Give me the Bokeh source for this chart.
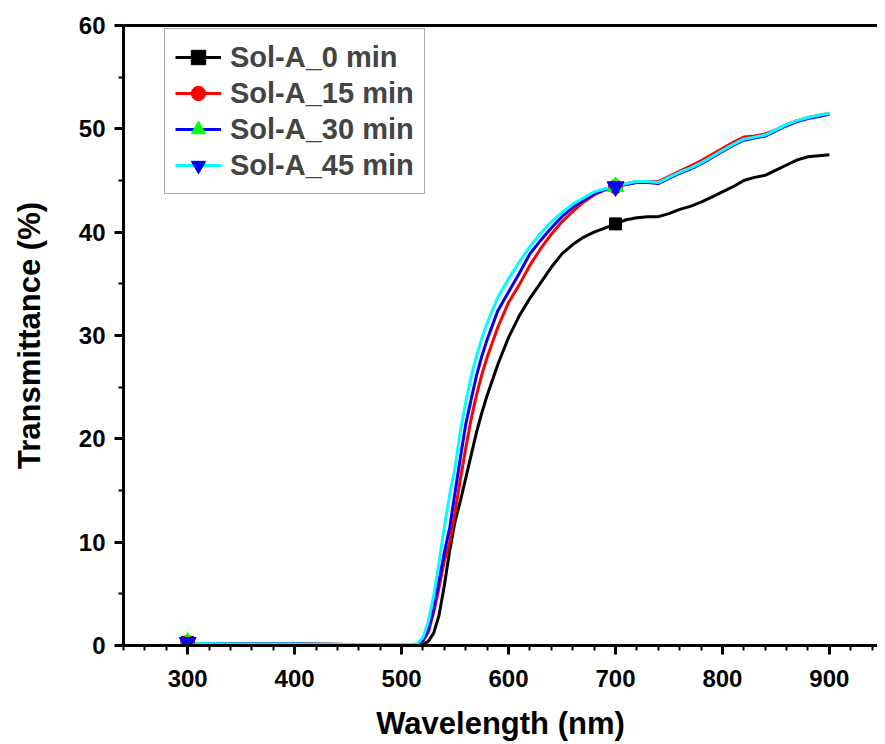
from bokeh.plotting import figure
from bokeh.models import Range1d, LinearAxis, Legend, LegendItem, FixedTicker
from bokeh.embed import file_html
from bokeh.resources import INLINE

# ---- data ----
wavelength = [300, 350, 400, 450, 500, 510, 515, 520, 525, 530, 535, 540, 545,
              550, 555, 560, 565, 570, 575, 580, 590, 600, 610, 620, 630, 640,
              650, 660, 670, 680, 690, 700, 710, 720, 730, 740, 750, 760, 770,
              780, 790, 800, 810, 820, 830, 840, 850, 860, 870, 880, 890, 900]

t_0min = [0.2, 0.15, 0.15, 0.1, 0.1, 0.1, 0.1, 0.1, 0.4, 1.2, 2.9, 5.8, 9.2,
          12.0, 14.0, 16.2, 18.4, 20.6, 22.5, 24.2, 27.2, 29.8, 31.9, 33.6, 35.1, 36.6,
          37.9, 38.8, 39.5, 40.0, 40.4, 40.8, 41.2, 41.4, 41.5, 41.5, 41.8, 42.2, 42.5,
          42.9, 43.4, 43.9, 44.4, 45.0, 45.3, 45.5, 46.0, 46.5, 47.0, 47.3, 47.4, 47.5]

t_15min = [0.2, 0.15, 0.15, 0.1, 0.1, 0.1, 0.1, 0.4, 1.3, 3.2, 5.6, 8.2, 10.0,
           12.9, 16.1, 19.1, 21.9, 24.2, 26.2, 27.9, 30.8, 33.2, 34.9, 36.8, 38.4, 39.8,
           41.0, 42.0, 42.9, 43.6, 44.1, 44.4, 44.7, 44.9, 44.9, 44.9, 45.4, 45.9, 46.4,
           46.9, 47.5, 48.1, 48.7, 49.2, 49.3, 49.5, 49.9, 50.4, 50.8, 51.1, 51.3, 51.5]

t_30min = [0.2, 0.15, 0.15, 0.1, 0.1, 0.1, 0.1, 0.5, 1.5, 3.6, 6.3, 9.0, 11.4,
           14.8, 18.2, 21.4, 23.8, 26.1, 28.0, 29.6, 32.4, 34.2, 36.0, 37.9, 39.2, 40.4,
           41.5, 42.4, 43.1, 43.7, 44.1, 44.4, 44.6, 44.8, 44.8, 44.7, 45.2, 45.7, 46.1,
           46.6, 47.2, 47.8, 48.4, 48.9, 49.1, 49.3, 49.8, 50.3, 50.7, 51.0, 51.2, 51.4]

t_45min = [0.2, 0.15, 0.15, 0.1, 0.1, 0.1, 0.2, 0.8, 2.3, 4.8, 8.0, 11.5, 14.6,
           17.2, 20.8, 23.5, 26.0, 28.0, 29.7, 31.2, 33.7, 35.5, 37.1, 38.6, 39.9, 41.0,
           41.9, 42.7, 43.3, 43.9, 44.2, 44.4, 44.7, 44.9, 44.9, 44.8, 45.3, 45.8, 46.2,
           46.7, 47.3, 47.9, 48.5, 49.0, 49.2, 49.4, 49.9, 50.4, 50.8, 51.1, 51.3, 51.5]

marker_wl = [300, 700]
m_0min = [0.3, 40.8]
m_15min = [0.3, 44.4]
m_30min = [0.3, 44.4]
m_45min = [0.3, 44.4]

labels = ["Sol-A_0 min", "Sol-A_15 min", "Sol-A_30 min", "Sol-A_45 min"]
x_major = [300, 400, 500, 600, 700, 800, 900]
x_minor = [240, 260, 280, 320, 340, 360, 380, 420, 440, 460, 480, 520, 540, 560,
           580, 620, 640, 660, 680, 720, 740, 760, 780, 820, 840, 860, 880, 920, 940]
y_major = [0, 10, 20, 30, 40, 50, 60]
y_minor = [5, 15, 25, 35, 45, 55]

FONT = "Liberation Sans"

p = figure(width=877, height=744, output_backend="svg", toolbar_location=None,
           x_range=Range1d(240, 945), y_range=Range1d(0, 60),
           min_border_left=123, min_border_top=25, min_border_right=0,
           min_border_bottom=99, x_axis_label="Wavelength (nm)",
           y_axis_label="Transmittance (%)")
p.outline_line_color = None
p.grid.visible = False
p.background_fill_color = "white"

p.xaxis.ticker = FixedTicker(ticks=x_major, minor_ticks=x_minor)
p.yaxis.ticker = FixedTicker(ticks=y_major, minor_ticks=y_minor)

for ax in (p.xaxis[0], p.yaxis[0]):
    ax.axis_line_width = 3
    ax.axis_line_color = "black"
    ax.major_tick_line_width = 3
    ax.major_tick_out = 9
    ax.major_tick_in = 0
    ax.minor_tick_line_width = 2
    ax.minor_tick_out = 5
    ax.minor_tick_in = 0
    ax.major_label_text_font = FONT
    ax.major_label_text_font_style = "bold"
    ax.major_label_text_font_size = "24px"
    ax.major_label_text_color = "black"
    ax.axis_label_text_font = FONT
    ax.axis_label_text_font_style = "bold"
    ax.axis_label_text_font_size = "31px"
    ax.axis_label_text_color = "black"

p.xaxis.major_label_standoff = 15
p.xaxis.axis_label_standoff = 16
p.yaxis.major_label_standoff = 9
p.yaxis.axis_label_standoff = 29

top_axis = LinearAxis(ticker=FixedTicker(ticks=[]), axis_line_width=3,
                      major_tick_out=0, minor_tick_out=0, major_tick_in=0,
                      minor_tick_in=0, major_label_text_font_size="0px",
                      major_label_standoff=0)
p.add_layout(top_axis, "above")

series = [
    (t_0min, m_0min, "black", "square", "black", 12),
    (t_15min, m_15min, "red", "circle", "red", 14),
    (t_30min, m_30min, "blue", "triangle", "#00ff00", 17),
    (t_45min, m_45min, "cyan", "inverted_triangle", "blue", 17),
]

line_rs = []
for ys, ms, col, mk, mcol, msz in series:
    line_rs.append(p.line(wavelength, ys, line_color=col, line_width=3))

items = []
for (ys, ms, col, mk, mcol, msz), lr, lab in zip(series, line_rs, labels):
    sr = p.scatter(marker_wl, ms, marker=mk, size=msz, fill_color=mcol,
                   line_color=mcol)
    items.append(LegendItem(label=lab, renderers=[lr, sr]))

legend = Legend(items=items, location=(41, 451), margin=0, padding=10,
                spacing=0, glyph_width=46, glyph_height=36, label_height=36,
                label_standoff=9, label_text_font=FONT,
                label_text_font_style="bold", label_text_font_size="29px",
                border_line_color="#555555", border_line_width=1,
                background_fill_color="white", background_fill_alpha=1)
p.add_layout(legend, "center")

open("out.html", "w").write(file_html(p, INLINE))
